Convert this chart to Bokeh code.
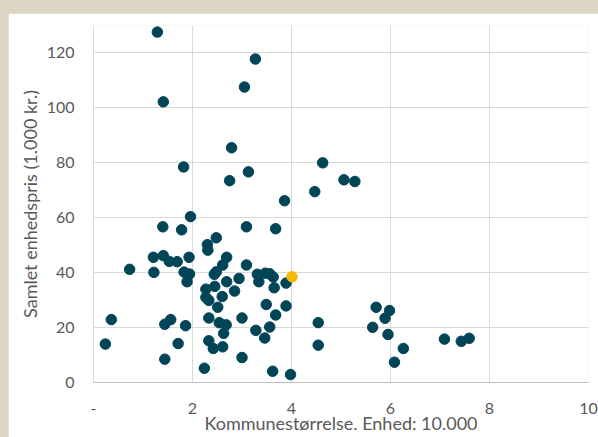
from bokeh.plotting import figure
from bokeh.embed import file_html
from bokeh.resources import INLINE
from bokeh.models import FixedTicker, Range1d, GlobalInlineStyleSheet

# Municipality size (unit: 10,000) and total unit price (1,000 kr.)
x_vals = [1.29, 3.27, 1.41, 3.05, 2.79, 1.82, 3.13, 2.75, 4.63, 4.47,
          5.06, 5.28, 3.86, 1.96, 1.40, 1.78, 3.09, 3.68, 2.48, 2.30,
          2.31, 1.21, 1.41, 1.53, 1.69, 1.93, 2.69, 2.61, 3.09, 0.73,
          1.22, 1.83, 1.94, 1.89, 2.48, 2.44, 3.31, 3.47, 3.56, 3.63,
          3.34, 3.65, 3.89, 2.94, 2.69, 2.45, 2.27, 2.85, 2.27, 2.60,
          2.33, 2.51, 3.49, 3.89, 3.68, 2.33, 3.00, 0.36, 1.56, 1.44,
          1.86, 2.54, 2.68, 2.63, 3.28, 3.56, 3.46, 4.54, 4.54, 0.24,
          1.71, 2.33, 2.42, 2.61, 3.00, 1.44, 2.24, 3.62, 3.98, 5.71,
          5.98, 5.89, 5.64, 5.95, 6.26, 6.08, 7.09, 7.43, 7.59]
y_vals = [127.6, 117.8, 102.2, 107.6, 85.5, 78.5, 76.7, 73.5, 80.0, 69.5,
          73.8, 73.2, 66.2, 60.4, 56.7, 55.6, 56.7, 56.0, 52.7, 50.2,
          48.2, 45.6, 46.2, 44.1, 44.0, 45.6, 45.6, 42.8, 42.8, 41.2,
          40.1, 40.2, 39.5, 36.7, 40.3, 39.4, 39.4, 39.8, 39.6, 38.4,
          36.7, 34.5, 36.2, 37.9, 36.7, 35.0, 34.0, 33.3, 31.0, 31.3,
          29.9, 27.4, 28.4, 27.9, 24.6, 23.5, 23.5, 22.9, 22.9, 21.2,
          20.7, 21.8, 21.0, 17.9, 19.0, 20.2, 16.2, 21.8, 13.6, 14.0,
          14.2, 15.2, 12.4, 13.0, 9.1, 8.5, 5.2, 4.1, 2.9, 27.4,
          26.2, 23.4, 20.1, 17.5, 12.4, 7.4, 15.8, 15.0, 16.1]
highlight_x = [4.01]
highlight_y = [38.5]

x_ticks = [0, 2, 4, 6, 8, 10]
x_tick_labels = {0: "-", 2: "2", 4: "4", 6: "6", 8: "8", 10: "10"}
y_ticks = [0, 20, 40, 60, 80, 100, 120]
x_title = "Kommunestørrelse. Enhed: 10.000"
y_title = "Samlet enhedspris (1.000 kr.)"

FONT = "Lato"
TXT = "#595959"

p = figure(width=590, height=424, output_backend="svg", toolbar_location=None,
           x_range=Range1d(0, 10), y_range=Range1d(0, 130))
p.margin = (13, 0, 0, 8)
p.stylesheets = [GlobalInlineStyleSheet(css="html, body { background: #DDD5C3; }")]
p.min_border_left = 85
p.min_border_right = 10
p.min_border_top = 12
p.min_border_bottom = 55
p.outline_line_color = None
p.background_fill_color = "white"
p.border_fill_color = "white"

p.xaxis.ticker = FixedTicker(ticks=x_ticks)
p.xaxis.major_label_overrides = x_tick_labels
p.yaxis.ticker = FixedTicker(ticks=y_ticks)

for ax in (p.xaxis[0], p.yaxis[0]):
    ax.major_tick_line_color = None
    ax.minor_tick_line_color = None
    ax.major_label_text_font = FONT
    ax.major_label_text_font_size = "16px"
    ax.major_label_text_color = TXT
    ax.axis_label_text_font = FONT
    ax.axis_label_text_font_size = "18px"
    ax.axis_label_text_font_style = "normal"
    ax.axis_label_text_color = TXT
p.xaxis.axis_line_color = "#BFBFBF"
p.yaxis.axis_line_color = "#D9D9D9"
p.xaxis.major_label_standoff = 14
p.yaxis.major_label_standoff = 13

p.yaxis.axis_label = y_title
p.yaxis.axis_label_standoff = 3
p.xaxis.axis_label = x_title
p.xaxis.axis_label_standoff = -5

p.xgrid.ticker = FixedTicker(ticks=x_ticks)
p.ygrid.ticker = FixedTicker(ticks=y_ticks)
p.grid.grid_line_color = "#D9D9D9"
p.grid.grid_line_width = 1

p.scatter(x_vals, y_vals, size=10.5, color="#004557", line_color="#004557")
p.scatter(highlight_x, highlight_y, size=10.5, color="#F4B800", line_color="#F4B800")

open("out.html", "w").write(file_html(p, INLINE))
